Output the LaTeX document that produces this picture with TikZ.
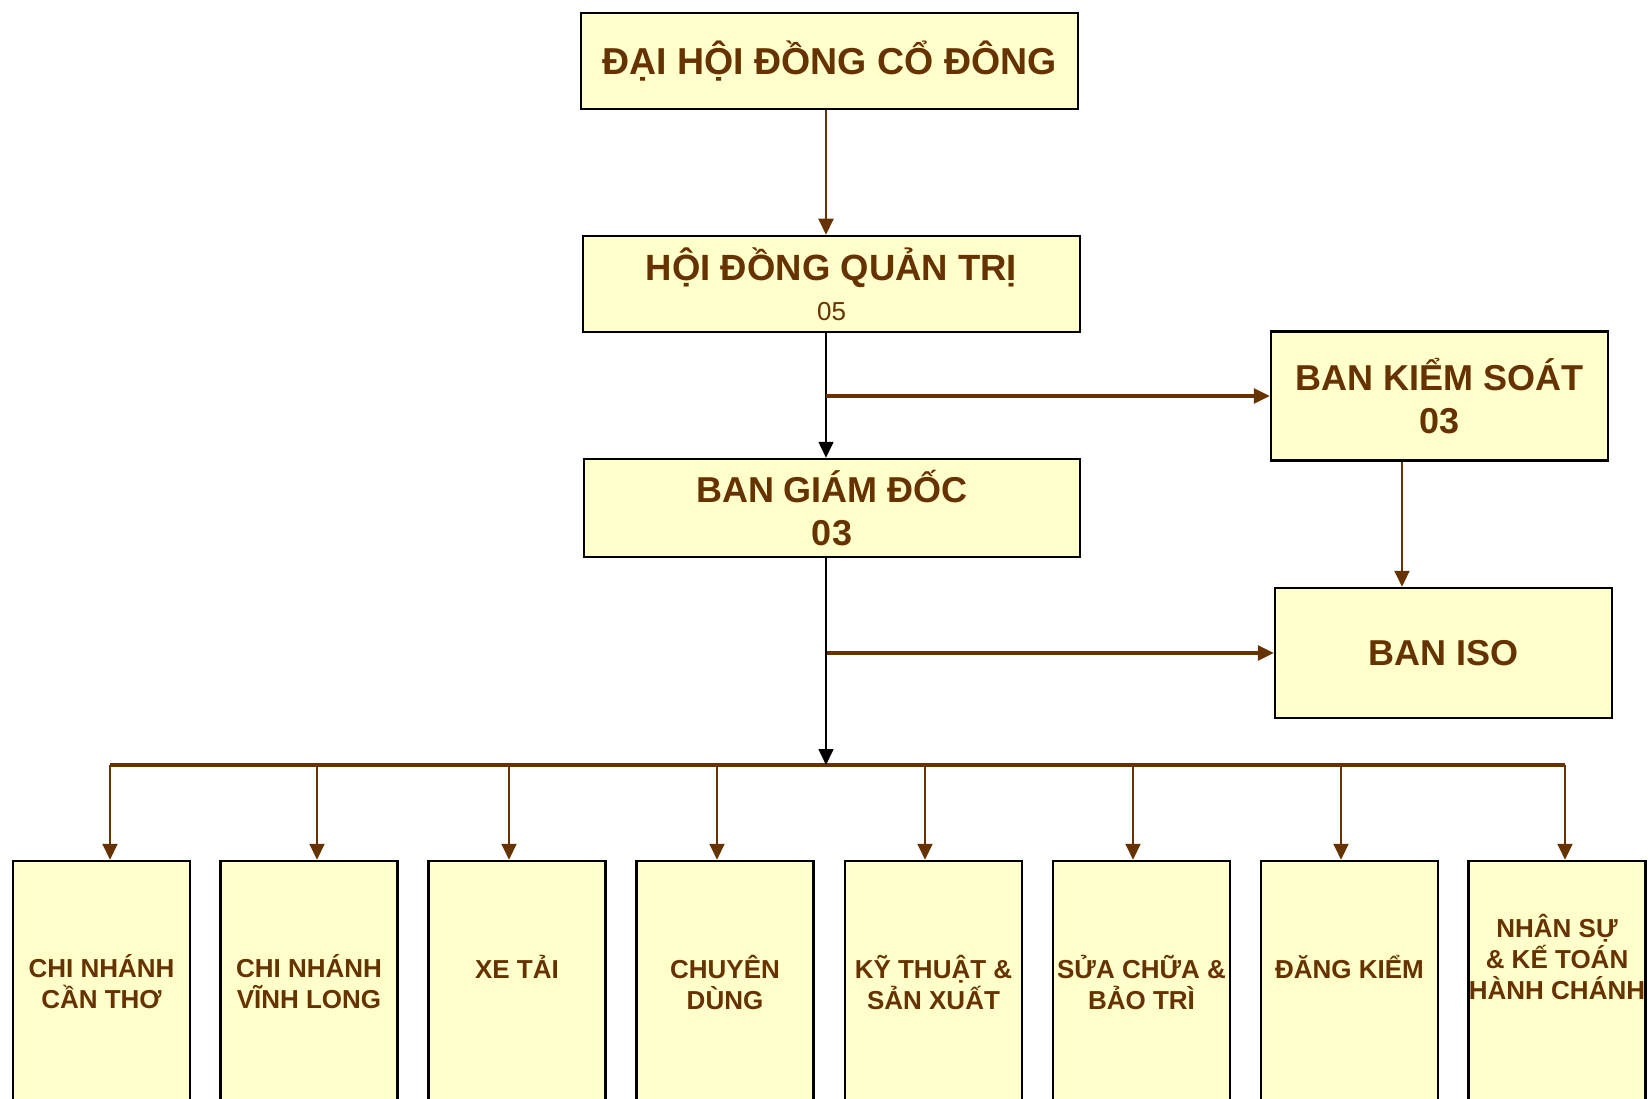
\documentclass[tikz,border=0pt]{standalone}
\usepackage{fontspec}
\setmainfont{Liberation Sans}
\usetikzlibrary{arrows.meta,positioning}
\definecolor{orgbrown}{HTML}{663300}
\definecolor{orgfill}{HTML}{FFFFCC}

\begin{document}
\begin{tikzpicture}[x=1pt,y=-1pt,>={Triangle[length=16pt,width=15pt]},
    box/.style={draw=black,line width=2.5pt,fill=orgfill,text=orgbrown,
      font=\bfseries\fontsize{36}{43}\selectfont,align=center,inner sep=0pt},
    unit/.style={box,minimum width=177pt,minimum height=242pt,
      font=\bfseries\fontsize{26}{31}\selectfont},
    link/.style={->,draw=orgbrown,line width=2pt},
    wide link/.style={->,draw=orgbrown,line width=3.2pt},
    main link/.style={->,draw=black,line width=1.6pt}]
  \useasboundingbox (0,0) rectangle (1648,1099);
  \clip (0,0) rectangle (1648,1099);

  \node[box,minimum width=497pt,minimum height=96pt,
    font=\bfseries\fontsize{37.5}{43}\selectfont] (dhcd) at (829.5,61) {ĐẠI HỘI ĐỒNG CỔ ĐÔNG};
  \node[box,minimum width=497pt,minimum height=96pt,
    font=\bfseries\fontsize{36.5}{40}\selectfont] (hdqt) at (831.5,284)
    {HỘI ĐỒNG QUẢN TRỊ\\{\mdseries\fontsize{26}{30}\selectfont 05}};
  \node[box,minimum width=496pt,minimum height=98pt] (bgd) at (832,508) {BAN GIÁM ĐỐC\\03};
  \node[box,minimum width=337pt,minimum height=129pt] (bks) at (1439.5,396) {BAN KIỂM SOÁT\\03};
  \node[box,minimum width=337pt,minimum height=130pt] (iso) at (1443.5,653) {BAN ISO};

  \coordinate (sp) at (826,0);
  \coordinate (kx) at (1402,0);
  \coordinate (busL) at (110,765);
  \coordinate (busR) at (1565,765);

  \draw[link] (dhcd.south -| sp) -- (hdqt.north -| sp);
  \draw[main link] (hdqt.south -| sp) -- (bgd.north -| sp);
  \draw[wide link] (sp |- bks.west) -- (bks.west);
  \draw[link] (bks.south -| kx) -- (iso.north -| kx);
  \draw[wide link] (sp |- iso.west) -- (iso.west);
  \draw[orgbrown,line width=3.2pt] (busL) -- (busR);
  \draw[main link] (bgd.south -| sp) -- (sp |- busL);

  % phong ban
  \foreach \n/\cx/\ax/\txt in {
      1/101.5/110/{CHI NHÁNH\\CẦN THƠ},
      2/309/317/{CHI NHÁNH\\VĨNH LONG},
      3/517/509/{XE TẢI\\\mbox{}},
      4/725/717/{CHUYÊN\\DÙNG},
      5/933.5/925/{KỸ THUẬT \&\\SẢN XUẤT},
      6/1141.5/1133/{SỬA CHỮA \&\\BẢO TRÌ},
      7/1349.5/1341/{ĐĂNG KIỂM\\\mbox{}},
      8/1557/1565/{NHÂN SỰ\\\& KẾ TOÁN\\HÀNH CHÁNH\\[20pt]\mbox{}}}
  {
    \node[unit] (u\n) at (\cx,982) {\txt};
    \coordinate (a\n) at (\ax,765);
    \draw[link] (a\n) -- (a\n |- u\n.north);
  }
\end{tikzpicture}
\end{document}
